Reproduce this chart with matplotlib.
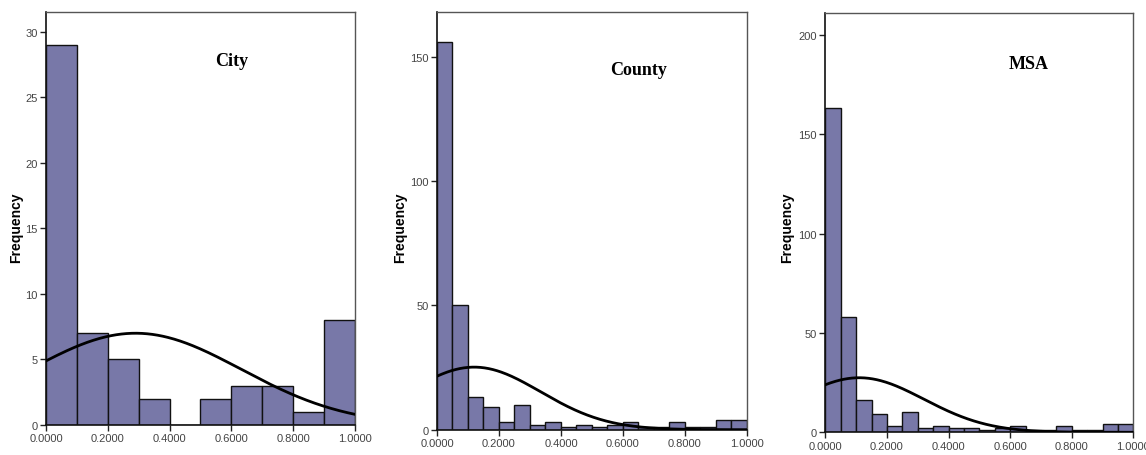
import numpy as np
import matplotlib.pyplot as plt
from matplotlib.ticker import FormatStrFormatter

# bin counts
city_counts = [29, 7, 5, 2, 0, 2, 3, 3, 1, 8]
county_counts = [156, 50, 13, 9, 3, 10, 2, 3, 1, 2, 1, 2, 3, 1, 1, 3, 1, 1, 4, 4]
msa_counts = [163, 58, 16, 9, 3, 10, 2, 3, 2, 2, 1, 2, 3, 1, 1, 3, 1, 1, 4, 4]

# fitted normal curve (mean, std dev) for each panel
city_fit = (0.29, 0.342)
county_fit = (0.12, 0.214)
msa_fit = (0.11, 0.21)

titles = ["City", "County", "MSA"]
y_ticks = [[0, 5, 10, 15, 20, 25, 30], [0, 50, 100, 150], [0, 50, 100, 150, 200]]
x_ticks = [0.0, 0.2, 0.4, 0.6, 0.8, 1.0]

BAR = "#7878a8"

fig = plt.figure(figsize=(11.46, 4.56), dpi=100)

panels = [
    dict(counts=city_counts, fit=city_fit, rect=[0.0401, 0.0658, 0.2697, 0.9057],
         ylim=31.5, title_xy=(0.60, 27.8), ylab_x=16),
    dict(counts=county_counts, fit=county_fit, rect=[0.3813, 0.0555, 0.2705, 0.9160],
         ylim=168, title_xy=(0.65, 145), ylab_x=400),
    dict(counts=msa_counts, fit=msa_fit, rect=[0.7202, 0.0498, 0.2688, 0.9195],
         ylim=211, title_xy=(0.66, 185.6), ylab_x=787),
]

for i, p in enumerate(panels):
    ax = fig.add_axes(p["rect"])
    counts = np.array(p["counts"])
    n_bins = len(counts)
    width = 1.0 / n_bins
    edges = np.arange(n_bins) * width
    ax.bar(edges, counts, width=width, align="edge", color=BAR,
           edgecolor="#111111", linewidth=1.0, zorder=2)

    # normal curve scaled to counts
    mu, sd = p["fit"]
    n = counts.sum()
    xs = np.linspace(0, 1, 300)
    ys = n * width / (sd * np.sqrt(2 * np.pi)) * np.exp(-(xs - mu) ** 2 / (2 * sd ** 2))
    ax.plot(xs, ys, color="black", linewidth=2.0, zorder=3)

    ax.set_xlim(0, 1)
    ax.set_ylim(0, p["ylim"])
    ax.set_xticks(x_ticks)
    ax.set_yticks(y_ticks[i])
    ax.xaxis.set_major_formatter(FormatStrFormatter("%.4f"))
    ax.tick_params(axis="both", direction="out", length=4, width=1,
                   labelsize=8, labelcolor="#444444", colors="#222222",
                   pad=2)
    for lab in ax.get_xticklabels() + ax.get_yticklabels():
        lab.set_family("Liberation Sans")
    for side in ["top", "right"]:
        ax.spines[side].set_color("#555555")
        ax.spines[side].set_linewidth(1.0)
    for side in ["left", "bottom"]:
        ax.spines[side].set_color("#111111")
        ax.spines[side].set_linewidth(1.2)

    ax.text(p["title_xy"][0], p["title_xy"][1], titles[i], ha="center", va="center",
            fontsize=13, fontweight="bold", family="Liberation Serif")

    fig.text(p["ylab_x"] / 1146, 0.5, "Frequency", rotation=90, ha="center", va="center",
             fontsize=10, fontweight="bold", family="Liberation Sans")

fig.savefig("out.png", dpi=100)
